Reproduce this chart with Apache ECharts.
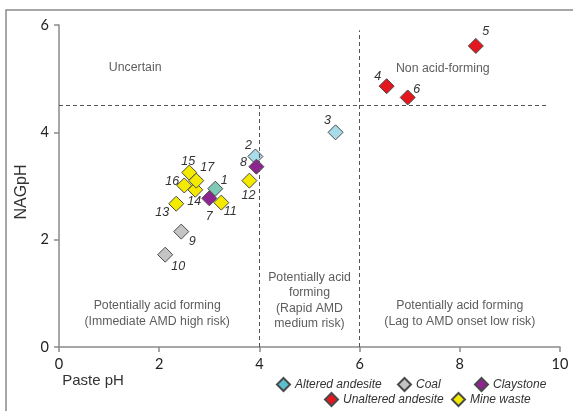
<!DOCTYPE html>
<html>
<head>
<meta charset="utf-8">
<script src="https://cdn.jsdelivr.net/npm/echarts@6/dist/echarts.min.js"></script>
<style>
  html, body { margin: 0; padding: 0; background: #fff; }
  #chart { width: 573px; height: 411px; }
</style>
</head>
<body>
<div id="chart"></div>
<script>
// Sample groups: paste pH (x) vs NAG pH (y)
const alteredId = [1, 2, 3];
const alteredPastePH = [3.12, 3.92, 5.52];
const alteredNAGpH = [2.95, 3.55, 4.00];

const coalId = [9, 10];
const coalPastePH = [2.44, 2.12];
const coalNAGpH = [2.15, 1.72];

const claystoneId = [7, 8];
const claystonePastePH = [3.00, 3.94];
const claystoneNAGpH = [2.77, 3.36];

const unalteredId = [4, 5, 6];
const unalteredPastePH = [6.54, 8.32, 6.96];
const unalteredNAGpH = [4.86, 5.61, 4.65];

const mineId = [11, 12, 13, 14, 15, 16, 17];
const minePastePH = [3.24, 3.80, 2.34, 2.72, 2.60, 2.50, 2.74];
const mineNAGpH = [2.69, 3.10, 2.67, 2.93, 3.25, 3.01, 3.10];

// Classification boundaries
const nagBoundary = 4.5;
const pasteBoundaries = [4, 6];

// Region captions
const regionText = [
  { text: 'Uncertain', at: [1.52, 5.21] },
  { text: 'Non acid-forming', at: [7.66, 5.18] },
  { text: 'Potentially acid forming\n(Immediate AMD high risk)', at: [1.96, 0.62] },
  { text: 'Potentially acid\nforming\n(Rapid AMD\nmedium risk)', at: [5.0, 0.86] },
  { text: 'Potentially acid forming\n(Lag to AMD onset low risk)', at: [8.0, 0.62] }
];

// Label placement around each marker (pixel offsets)
const labelOffset = {
  1: [9, -8], 2: [-7, -11], 3: [-8, -12], 4: [-9, -10], 5: [10, -14], 6: [9, -8],
  7: [0, 18], 8: [-13, -4], 9: [11, 10], 10: [13, 12], 11: [9, 9], 12: [-1, 15],
  13: [-14, 9], 14: [-1, 12], 15: [-1, -11], 16: [-12, -4], 17: [11, -13]
};

const pointColor = { 1: '#7ecab6', 2: '#a9dcea', 3: '#a9dcea' };

function buildPoints(ids, xs, ys) {
  return ids.map((id, i) => {
    const p = {
      value: [xs[i], ys[i]],
      name: String(id),
      label: { offset: labelOffset[id] }
    };
    if (pointColor[id]) p.itemStyle = { color: pointColor[id] };
    return p;
  });
}

const markerStyle = { borderColor: '#4a4a4a', borderWidth: 1, opacity: 1 };
const numLabel = {
  show: true, position: 'inside', formatter: '{b}',
  fontFamily: 'Liberation Sans, Arial, sans-serif', fontStyle: 'italic',
  fontSize: 12.5, color: '#333'
};

function groupSeries(name, color, ids, xs, ys) {
  return {
    name: name, type: 'scatter', symbol: 'diamond', symbolSize: 15,
    itemStyle: Object.assign({ color: color }, markerStyle),
    label: numLabel,
    emphasis: { disabled: true },
    data: buildPoints(ids, xs, ys)
  };
}

const dash = { color: '#555', type: [4, 3], width: 1 };

const series = [
  groupSeries('Altered andesite', '#5bbfd0', alteredId, alteredPastePH, alteredNAGpH),
  groupSeries('Coal', '#c4c4c4', coalId, coalPastePH, coalNAGpH),
  groupSeries('Claystone', '#8e2490', claystoneId, claystonePastePH, claystoneNAGpH),
  groupSeries('Unaltered andesite', '#e3171d', unalteredId, unalteredPastePH, unalteredNAGpH),
  groupSeries('Mine waste', '#f4ea00', mineId, minePastePH, mineNAGpH),
  {
    name: 'boundaries', type: 'scatter', data: [], silent: true, z: 1,
    markLine: {
      silent: true, symbol: 'none', label: { show: false }, lineStyle: dash,
      animation: false,
      data: [
        [{ coord: [0, nagBoundary] }, { coord: [9.75, nagBoundary] }],
        [{ coord: [pasteBoundaries[0], 0] }, { coord: [pasteBoundaries[0], nagBoundary] }],
        [{ coord: [pasteBoundaries[1], 0] }, { coord: [pasteBoundaries[1], 5.9] }]
      ]
    }
  },
  {
    name: 'regions', type: 'scatter', symbolSize: 0, silent: true, z: 1,
    data: regionText.map(r => ({ value: r.at, name: r.text })),
    label: {
      show: true, position: 'inside', formatter: '{b}',
      fontFamily: 'Liberation Sans, Arial, sans-serif', fontSize: 12.3,
      color: '#333', lineHeight: 15.5, align: 'center', verticalAlign: 'middle'
    }
  }
];

const legendText = {
  fontFamily: 'Liberation Sans, Arial, sans-serif', fontStyle: 'italic',
  fontSize: 12, color: '#333'
};
function legendAt(name, left, top) {
  return {
    data: [name], left: left, top: top, itemWidth: 13, itemHeight: 13,
    itemGap: 0, padding: 0, textStyle: legendText, selectedMode: false,
    icon: 'diamond'
  };
}

const axisFont = { fontFamily: 'Lato, Carlito, sans-serif', fontSize: 14.5, color: '#222' };

const chart = echarts.init(document.getElementById('chart'), null, { renderer: 'canvas' });
chart.setOption({
  animation: false,
  backgroundColor: '#fff',
  grid: { left: 59, right: 13, top: 25, bottom: 64 },
  xAxis: {
    type: 'value', min: 0, max: 10, interval: 2,
    axisLine: { show: true, lineStyle: { color: '#8a8a8a', width: 1.5 } },
    axisTick: { show: true, length: 5, lineStyle: { color: '#8a8a8a', width: 1.5 } },
    axisLabel: Object.assign({ margin: 10 }, axisFont),
    splitLine: { show: false }
  },
  yAxis: {
    type: 'value', min: 0, max: 6, interval: 2,
    axisLine: { show: true, lineStyle: { color: '#8a8a8a', width: 1.5 } },
    axisTick: { show: true, length: 5, lineStyle: { color: '#8a8a8a', width: 1.5 } },
    axisLabel: Object.assign({ margin: 10 }, axisFont),
    splitLine: { show: false }
  },
  legend: [
    legendAt('Altered andesite', 276, 377),
    legendAt('Coal', 397, 377),
    legendAt('Claystone', 474, 377),
    legendAt('Unaltered andesite', 324, 392),
    legendAt('Mine waste', 451, 392)
  ],
  graphic: [
    {
      type: 'rect', shape: { x: 6, y: 10, width: 600, height: 450 },
      style: { fill: 'none', stroke: '#8a8a8a', lineWidth: 1.5 }, silent: true, z: -1
    },
    {
      type: 'text', x: 22, y: 192, rotation: Math.PI / 2,
      style: {
        text: 'NAGpH', fontFamily: 'Liberation Sans, Arial, sans-serif',
        fontSize: 16, fill: '#333', align: 'center', verticalAlign: 'middle'
      }
    },
    {
      type: 'text', x: 93, y: 381,
      style: {
        text: 'Paste pH', fontFamily: 'Liberation Sans, Arial, sans-serif',
        fontSize: 15, fill: '#333', align: 'center', verticalAlign: 'middle'
      }
    }
  ],
  series: series
});
</script>
</body>
</html>
